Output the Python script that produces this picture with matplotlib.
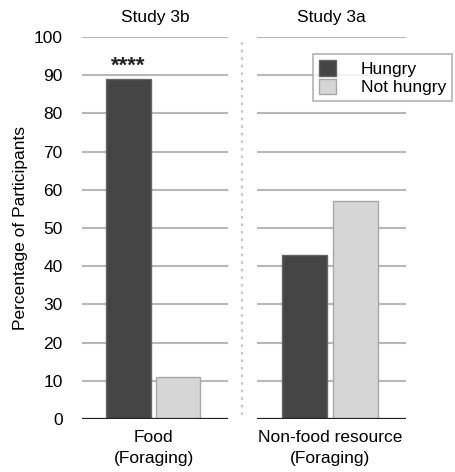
import matplotlib.pyplot as plt
from matplotlib.lines import Line2D
from matplotlib.patches import Patch

plt.rcParams['font.family'] = ['Liberation Sans', 'DejaVu Sans']

studies = ['Study 3b', 'Study 3a']
categories = ['Food\n(Foraging)', 'Non-food resource\n(Foraging)']
hungry = [89, 43]
not_hungry = [11, 57]
yticks = [0, 10, 20, 30, 40, 50, 60, 70, 80, 90, 100]
signif = ['****', '']

dark = '#454545'
light = '#d6d6d6'
grid_c = '#b8b8b8'
fs = 12.5

W, H = 455, 472
fig = plt.figure(figsize=(W / 100, H / 100), dpi=100)

panels = [(82, 146), (257, 149)]
bottom, top = 419, 37

axes = []
for i, (x0, w) in enumerate(panels):
    ax = fig.add_axes([x0 / W, 1 - bottom / H, w / W, (bottom - top) / H])
    axes.append(ax)
    ax.set_xlim(0, 1)
    ax.set_ylim(0, 100)
    ax.set_yticks(yticks)
    for t in yticks[1:]:
        ax.axhline(t, color=grid_c, lw=1.5, zorder=0)
    ax.axhline(0, color='#222222', lw=1.6, zorder=3)
    ax.bar(0.32, hungry[i], width=0.305, color=dark, edgecolor='#666666', lw=1, zorder=2)
    ax.bar(0.66, not_hungry[i], width=0.30, color=light, edgecolor='#a8a8a8', lw=1, zorder=2)
    if signif[i]:
        ax.text(0.32, hungry[i] + 0.6, signif[i], ha='center', va='bottom',
                fontsize=16, fontweight='bold', color='#222222')
    for s in ax.spines.values():
        s.set_visible(False)
    ax.set_xticks([0.49])
    ax.set_xticklabels([categories[i]], fontsize=fs, linespacing=1.45)
    ax.tick_params(axis='x', length=0, pad=8)
    ax.set_title(studies[i], fontsize=fs, pad=11)
    if i == 0:
        ax.tick_params(axis='y', length=0, labelsize=fs, pad=14)
        ax.set_ylabel('Percentage of Participants', fontsize=fs, labelpad=4)
    else:
        ax.tick_params(axis='y', length=0, labelleft=False)

# dotted divider between the two studies
fig.add_artist(Line2D([242 / W, 242 / W], [1 - 415 / H, 1 - 40 / H],
                      color='#c8c8c8', lw=1.6, ls=(0, (1.2, 2.2))))

handles = [Patch(facecolor=dark, edgecolor='#666666', label='Hungry'),
           Patch(facecolor=light, edgecolor='#a8a8a8', label='Not hungry')]
leg = fig.legend(handles=handles, loc='upper left', bbox_to_anchor=(313 / W, 1 - 54 / H),
                 fontsize=fs, frameon=True, fancybox=False, borderaxespad=0,
                 handlelength=1.0, handleheight=1.0, handletextpad=1.4,
                 labelspacing=0.1, borderpad=0.35)
leg.get_frame().set_edgecolor('#a0a0a0')
leg.get_frame().set_linewidth(1.2)

fig.savefig('out.png', dpi=100)
